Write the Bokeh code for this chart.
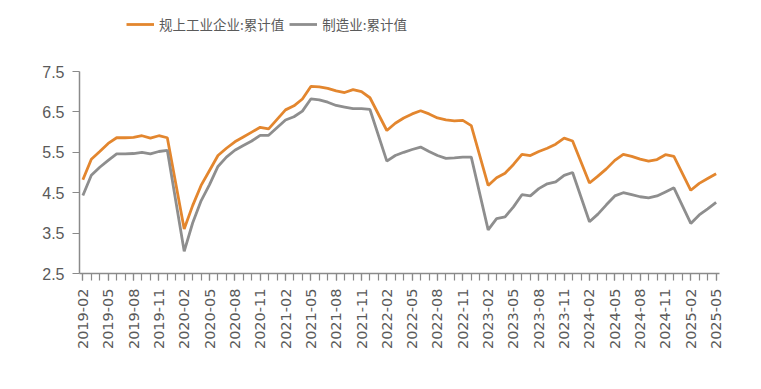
import math
import pandas as pd
from bokeh.plotting import figure
from bokeh.models import ColumnDataSource, FixedTicker, Legend, LegendItem, Range1d
from bokeh.embed import file_html
from bokeh.resources import INLINE

# all monthly categories on the axis (January values are not published)
all_months = list(pd.period_range("2019-02", "2025-05", freq="M").strftime("%Y-%m"))
data_months = [m for m in all_months if not m.endswith("-01")]

series_names = ["规上工业企业:累计值", "制造业:累计值"]

industry = [
    4.82, 5.33, 5.52, 5.72, 5.86, 5.86, 5.87, 5.91, 5.85, 5.91, 5.86,   # 2019
    3.60, 4.18, 4.68, 5.05, 5.42, 5.60, 5.76, 5.88, 6.00, 6.12, 6.08,   # 2020
    6.55, 6.65, 6.82, 7.13, 7.12, 7.08, 7.02, 6.98, 7.05, 7.00, 6.85,   # 2021
    6.04, 6.22, 6.35, 6.45, 6.53, 6.45, 6.35, 6.30, 6.28, 6.29, 6.16,   # 2022
    4.68, 4.87, 4.98, 5.20, 5.45, 5.42, 5.52, 5.60, 5.70, 5.85, 5.78,   # 2023
    4.74, 4.91, 5.09, 5.30, 5.45, 5.40, 5.33, 5.28, 5.32, 5.44, 5.40,   # 2024
    4.56, 4.73, 4.85, 4.97,                                             # 2025
]
manufacturing = [
    4.43, 4.93, 5.13, 5.30, 5.46, 5.46, 5.47, 5.50, 5.46, 5.52, 5.55,   # 2019
    3.05, 3.75, 4.30, 4.70, 5.15, 5.38, 5.55, 5.67, 5.78, 5.92, 5.92,   # 2020
    6.30, 6.38, 6.52, 6.82, 6.80, 6.74, 6.66, 6.62, 6.58, 6.58, 6.56,   # 2021
    5.28, 5.42, 5.50, 5.57, 5.63, 5.52, 5.42, 5.35, 5.36, 5.38, 5.38,   # 2022
    3.58, 3.86, 3.90, 4.15, 4.45, 4.42, 4.60, 4.72, 4.77, 4.93, 5.00,   # 2023
    3.78, 3.97, 4.20, 4.42, 4.50, 4.45, 4.40, 4.37, 4.42, 4.52, 4.62,   # 2024
    3.74, 3.95, 4.10, 4.26,                                             # 2025
]

y_ticks = [2.5, 3.5, 4.5, 5.5, 6.5, 7.5]
label_step = 3

colors = ["#e3862e", "#8e8e8e"]

x_idx = [all_months.index(m) for m in data_months]
src = ColumnDataSource(dict(x=x_idx, a=industry, b=manufacturing, m=data_months))

W, H = 745, 373
border_bottom = 100
frame_h = H - border_bottom
axis_px = 202  # pixels between the lowest and the highest y tick
y_end = y_ticks[0] + (y_ticks[-1] - y_ticks[0]) * frame_h / axis_px

p = figure(width=W, height=H, output_backend="svg", toolbar_location=None,
           x_range=Range1d(-0.4, len(all_months) - 1 + 0.4),
           y_range=Range1d(y_ticks[0], y_end),
           min_border_left=79, min_border_right=26, min_border_top=0,
           min_border_bottom=border_bottom)
p.outline_line_color = None
p.xgrid.grid_line_color = None
p.ygrid.grid_line_color = None
p.background_fill_color = "white"
p.border_fill_color = "white"

r1 = p.line("x", "a", source=src, line_color=colors[0], line_width=2.8)
r2 = p.line("x", "b", source=src, line_color=colors[1], line_width=2.8)

major = list(range(0, len(all_months), label_step))
p.xaxis.ticker = FixedTicker(ticks=major, minor_ticks=list(range(len(all_months))))
p.xaxis.major_label_overrides = {i: all_months[i] for i in major}
p.xaxis.major_label_orientation = math.pi / 2
p.yaxis.ticker = FixedTicker(ticks=y_ticks)
p.yaxis.major_label_overrides = {t: f"{t:.1f}" for t in y_ticks}
p.yaxis.bounds = (y_ticks[0], y_ticks[-1])

for ax in (p.xaxis, p.yaxis):
    ax.axis_line_color = "#8a8a8a"
    ax.axis_line_width = 1.5
    ax.major_tick_line_color = "#8a8a8a"
    ax.minor_tick_line_color = "#8a8a8a"
    ax.major_tick_line_width = 1.2
    ax.minor_tick_line_width = 1.2
    ax.major_tick_in = 0
    ax.minor_tick_in = 0
    ax.major_label_text_color = "#5a5a5a"

p.xaxis.major_tick_out = 7
p.xaxis.minor_tick_out = 7
p.xaxis.major_label_text_font = "DejaVu Sans"
p.xaxis.major_label_text_font_size = "14.5px"
p.xaxis.major_label_standoff = 8
p.yaxis.major_tick_out = 7
p.yaxis.minor_tick_out = 0
p.yaxis.major_label_text_font = "Liberation Sans"
p.yaxis.major_label_text_font_size = "16px"
p.yaxis.major_label_standoff = 8

legend = Legend(items=[LegendItem(label=series_names[0], renderers=[r1]),
                       LegendItem(label=series_names[1], renderers=[r2])],
                location=(47, frame_h - 20 - 14), orientation="horizontal",
                label_text_font="Noto Sans CJK SC", label_text_font_size="13.5px",
                label_text_color="#5a5a5a", glyph_width=28, glyph_height=20,
                label_height=20, label_standoff=5, padding=4, spacing=5, margin=0,
                border_line_color=None, background_fill_alpha=0)
p.add_layout(legend)

open("out.html", "w").write(file_html(p, INLINE))
